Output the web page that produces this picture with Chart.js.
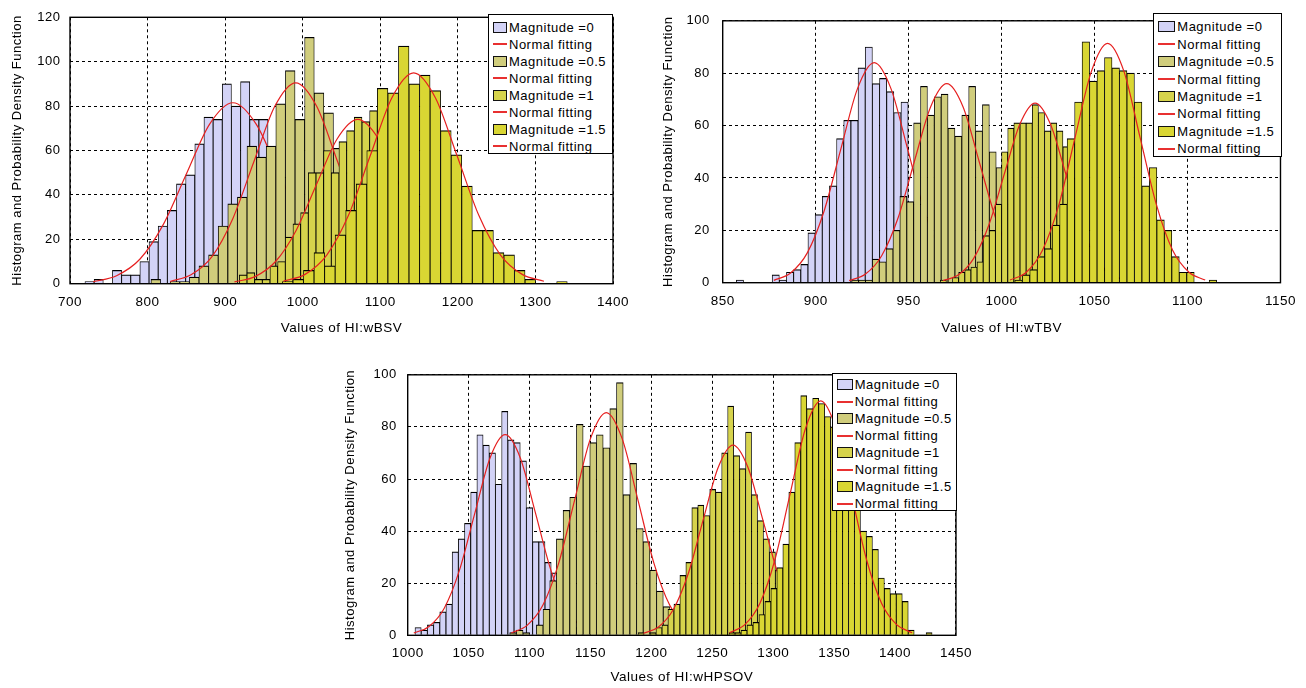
<!DOCTYPE html>
<html>
<head>
<meta charset="utf-8">
<script src="https://cdn.jsdelivr.net/npm/chart.js@4.4.0/dist/chart.umd.min.js"></script>
<style>
  body { margin: 0; background: #fff; width: 1306px; height: 688px; position: relative; overflow: hidden;
         font-family: "Liberation Sans", Arial, sans-serif; }
  canvas { position: absolute; }
  .legend { position: absolute; background: #fff; border: 1px solid #000; box-sizing: border-box; }
  .legend .row { display: flex; align-items: center; font-size: 13px; letter-spacing: 0.5px; color: #000; white-space: nowrap; }
  .legend .sw { display: inline-block; height: 11px; border: 1px solid #111; box-sizing: border-box; margin-left: 4px; margin-right: 2px; }
  .legend .ln { display: inline-block; height: 2px; background: #e83030; margin-left: 4px; margin-right: 2px; }
</style>
</head>
<body>
<canvas id="c1" width="640" height="345" style="left:0px;top:0px"></canvas>
<canvas id="c2" width="656" height="345" style="left:650px;top:0px"></canvas>
<canvas id="c3" width="650" height="332" style="left:332px;top:356px"></canvas>
<script>
const FONT = '"Liberation Sans", Arial, sans-serif';
const magNames = ['Magnitude =0', 'Magnitude =0.5', 'Magnitude =1', 'Magnitude =1.5'];
const fitName = 'Normal fitting';
const yTitle = 'Histogram and Probability Density Function';
const magFills = ['#d3d3f7', '#d0cd7c', '#d6d34c', '#d9d633'];
const fitColor = '#e62020';

// ---- HI:wBSV ----
const bsvXTicks = [700, 800, 900, 1000, 1100, 1200, 1300, 1400];
const bsvYTicks = [0, 20, 40, 60, 80, 100, 120];
// first bin edge, bin width for each magnitude
const bsvBins = [[719.3, 11.8], [804.4, 12.38], [918.3, 9.88], [960.2, 13.6]];
const bsvCount0 = [1, 2, 0, 6, 4, 4, 10, 19, 26, 33, 45, 49, 63, 75, 74, 90, 80, 91, 74, 74, 55, 48, 38, 30, 22, 15, 10, 6, 3, 2, 1];
const bsvCount1 = [2, 0, 1, 1, 3, 8, 13, 26, 36, 39, 62, 57, 62, 81, 96, 74, 111, 86, 77, 61, 50, 42, 30, 20, 14, 9, 5, 3, 1];
const bsvCount2 = [4, 5, 2, 2, 8, 10, 21, 27, 32, 50, 50, 60, 50, 64, 69, 75, 73, 78, 72, 65, 60, 50, 42, 35, 26, 20, 14, 9, 6, 3, 2, 1];
const bsvCount3 = [0, 1, 2, 6, 14, 8, 22, 33, 45, 60, 88, 86, 107, 90, 94, 87, 69, 58, 44, 24, 24, 14, 13, 6, 2, 0, 0, 1];
const bsvFitX0 = [730, 760, 790, 820, 850, 880, 910, 940, 970, 1000, 1030, 1060, 1090];
const bsvFitY0 = [0.9, 3.6, 11.0, 26.5, 49.4, 71.9, 81.5, 71.9, 49.4, 26.5, 11.0, 3.6, 0.9];
const bsvFitX1 = [829, 856, 883, 910, 937, 964, 991, 1018, 1045, 1072, 1099, 1126, 1153];
const bsvFitY1 = [1.0, 4.0, 12.2, 29.4, 54.9, 79.9, 90.5, 79.9, 54.9, 29.4, 12.2, 4.0, 1.0];
const bsvFitX2 = [912, 938.5, 965, 991.5, 1018, 1044.5, 1071, 1097.5, 1124, 1150.5, 1177, 1203.5, 1230];
const bsvFitY2 = [0.8, 3.2, 10.0, 24.0, 44.9, 65.3, 74, 65.3, 44.9, 24.0, 10.0, 3.2, 0.8];
const bsvFitX3 = [975, 1003, 1031, 1059, 1087, 1115, 1143, 1171, 1199, 1227, 1255, 1283, 1311];
const bsvFitY3 = [1.1, 4.2, 12.9, 30.8, 57.6, 83.8, 95, 83.8, 57.6, 30.8, 12.9, 4.2, 1.1];

// ---- HI:wTBV ----
const tbvXTicks = [850, 900, 950, 1000, 1050, 1100, 1150];
const tbvYTicks = [0, 20, 40, 60, 80, 100];
const tbvBins = [[857.35, 3.85], [919.4, 3.7], [967.0, 3.3], [1003.1, 4.02]];
const tbvCount0 = [1, 0, 0, 0, 0, 3, 1, 4, 5, 7, 19, 26, 33, 37, 55, 62, 62, 82, 90, 76, 78, 73, 65, 69, 30, 30, 25, 18, 12, 8, 5, 3, 1];
const tbvCount1 = [1, 1, 1, 9, 8, 13, 20, 33, 31, 61, 75, 64, 71, 72, 59, 56, 64, 75, 58, 68, 50, 44, 30, 18, 10, 5, 2, 1];
const tbvCount2 = [1, 0, 2, 4, 5, 6, 8, 18, 20, 30, 50, 59, 61, 61, 61, 68, 65, 58, 61, 58, 52, 40, 30, 22, 14, 9, 5, 3, 1];
const tbvCount3 = [0, 1, 3, 5, 10, 13, 22, 30, 55, 69, 92, 77, 81, 86, 82, 81, 80, 69, 37, 44, 24, 20, 10, 4, 4, 0, 0, 1];
const tbvFitX0 = [877.5, 886.5, 895.5, 904.5, 913.5, 922.5, 931.5, 940.5, 949.5, 958.5, 967.5, 976.5, 985.5];
const tbvFitY0 = [0.9, 3.7, 11.4, 27.3, 50.9, 74.1, 84, 74.1, 50.9, 27.3, 11.4, 3.7, 0.9];
const tbvFitX1 = [918, 926.8, 935.5, 944.3, 953, 961.8, 970.5, 979.3, 988, 996.8, 1005.5, 1014.3, 1023];
const tbvFitY1 = [0.8, 3.3, 10.3, 24.7, 46.1, 67.1, 76, 67.1, 46.1, 24.7, 10.3, 3.3, 0.8];
const tbvFitX2 = [968.5, 976.8, 985, 993.3, 1001.5, 1009.8, 1018, 1026.3, 1034.5, 1042.8, 1051, 1059.3, 1067.5];
const tbvFitY2 = [0.8, 3.0, 9.3, 22.3, 41.6, 60.5, 68.6, 60.5, 41.6, 22.3, 9.3, 3.0, 0.8];
const tbvFitX3 = [1004.5, 1013.3, 1022, 1030.8, 1039.5, 1048.3, 1057, 1065.8, 1074.5, 1083.3, 1092, 1100.8, 1109.5];
const tbvFitY3 = [1.0, 4.0, 12.4, 29.7, 55.4, 80.7, 91.4, 80.7, 55.4, 29.7, 12.4, 4.0, 1.0];

// ---- HI:wHPSOV ----
const hpsXTicks = [1000, 1050, 1100, 1150, 1200, 1250, 1300, 1350, 1400, 1450];
const hpsYTicks = [0, 20, 40, 60, 80, 100];
const hpsBins = [[1006, 5.08], [1083.7, 5.48], [1189.1, 4.9], [1263.8, 4.9]];
const hpsCount0 = [3, 2, 4, 5, 9, 12, 32, 37, 43, 55, 77, 73, 70, 58, 86, 75, 74, 67, 49, 36, 36, 28, 24, 15, 10, 6, 3, 1];
const hpsCount1 = [1, 2, 1, 0, 4, 10, 21, 37, 48, 53, 81, 65, 74, 77, 72, 87, 97, 54, 66, 41, 36, 25, 17, 11, 6, 3, 1];
const hpsCount2 = [1, 0, 1, 3, 4, 10, 12, 23, 28, 49, 50, 46, 56, 55, 70, 88, 69, 64, 78, 54, 44, 37, 32, 25, 18, 12, 7, 4, 2, 1];
const hpsCount3 = [1, 1, 2, 4, 5, 8, 13, 18, 26, 35, 55, 74, 92, 87, 91, 89, 84, 80, 72, 65, 58, 50, 40, 38, 33, 22, 18, 16, 16, 13, 2, 0, 0, 1];
const hpsFitX0 = [1005, 1017.5, 1030, 1042.5, 1055, 1067.5, 1080, 1092.5, 1105, 1117.5, 1130, 1142.5, 1155];
const hpsFitY0 = [0.9, 3.4, 10.4, 25.0, 46.7, 68.0, 77, 68.0, 46.7, 25.0, 10.4, 3.4, 0.9];
const hpsFitX1 = [1085, 1098, 1111, 1124, 1137, 1150, 1163, 1176, 1189, 1202, 1215, 1228, 1241];
const hpsFitY1 = [0.9, 3.8, 11.6, 27.8, 51.9, 75.5, 85.5, 75.5, 51.9, 27.8, 11.6, 3.8, 0.9];
const hpsFitX2 = [1193.5, 1205.8, 1218, 1230.3, 1242.5, 1254.8, 1267, 1279.3, 1291.5, 1303.8, 1316, 1328.3, 1340.5];
const hpsFitY2 = [0.8, 3.2, 9.9, 23.7, 44.3, 64.4, 73, 64.4, 44.3, 23.7, 9.9, 3.2, 0.8];
const hpsFitX3 = [1264, 1276.5, 1289, 1301.5, 1314, 1326.5, 1339, 1351.5, 1364, 1376.5, 1389, 1401.5, 1414];
const hpsFitY3 = [1.0, 4.0, 12.2, 29.2, 54.6, 79.4, 90, 79.4, 54.6, 29.2, 12.2, 4.0, 1.0];

// box around the axes plus wider glyph spacing like the original figure
const framePlugin = {
  id: 'frame',
  beforeUpdate(chart) { chart.ctx.letterSpacing = '0.5px'; },
  beforeDraw(chart) { chart.ctx.letterSpacing = '0.5px'; },
  afterDatasetsDraw(chart) {
    const a = chart.chartArea, ctx = chart.ctx;
    ctx.save();
    ctx.strokeStyle = '#000';
    ctx.lineWidth = 1.4;
    ctx.strokeRect(a.left, a.top, a.right - a.left, a.bottom - a.top);
    ctx.restore();
  }
};

function buildChart(id, p) {
  const datasets = [];
  for (let m = 0; m < 4; m++) {
    const bin = p.bins[m];
    datasets.push({
      type: 'bar',
      label: magNames[m],
      data: p.counts[m].map((c, i) => ({x: bin[0] + (i + 0.5) * bin[1], y: c})),
      xAxisID: m === 0 ? 'x' : 'x' + m,
      backgroundColor: magFills[m],
      borderColor: '#000',
      borderWidth: {top: 1.2, left: 0.85, right: 0.85, bottom: 0},
      barPercentage: 1,
      categoryPercentage: 1,
      grouped: false,
      order: 8 - 2 * m
    });
    datasets.push({
      type: 'line',
      label: fitName,
      data: p.fitX[m].map((x, i) => ({x: x, y: p.fitY[m][i]})),
      xAxisID: 'x',
      borderColor: fitColor,
      borderWidth: 1.2,
      pointRadius: 0,
      fill: false,
      cubicInterpolationMode: 'monotone',
      order: 7 - 2 * m
    });
  }
  const xt = p.xTicks, yt = p.yTicks;
  const scales = {
    x: {
      type: 'linear', position: 'bottom', min: xt[0], max: xt[xt.length - 1], offset: false,
      afterBuildTicks: s => { s.ticks = xt.map(v => ({value: v})); },
      ticks: {autoSkip: false, maxRotation: 0, padding: 10, color: '#000',
              font: {family: FONT, size: 13.5}, callback: v => String(v)},
      grid: {color: '#000', lineWidth: 1, drawTicks: false, offset: false},
      border: {display: false, dash: [3, 3]},
      title: {display: true, text: p.xTitle, color: '#000', font: {family: FONT, size: 13.5},
              padding: {top: 0, bottom: p.xTitlePad}},
      afterFit: s => { s.height = p.xH; }
    },
    y: {
      type: 'linear', position: 'left', min: yt[0], max: yt[yt.length - 1],
      afterBuildTicks: s => { s.ticks = yt.map(v => ({value: v})); },
      ticks: {padding: p.yTickPad, color: '#000', font: {family: FONT, size: 13}, callback: v => String(v)},
      grid: {color: '#000', lineWidth: 1, drawTicks: false},
      border: {display: false, dash: [3, 3]},
      title: {display: true, text: yTitle, color: '#000', font: {family: FONT, size: 13},
              padding: {top: p.yTitlePad, bottom: 0}},
      afterFit: s => { s.width = p.yW; }
    }
  };
  // each histogram gets its own hidden x axis so bar widths follow its own bin width
  for (let m = 1; m < 4; m++) {
    scales['x' + m] = {type: 'linear', display: false, min: xt[0], max: xt[xt.length - 1], offset: false};
  }
  return new Chart(document.getElementById(id), {
    type: 'bar',
    data: {datasets: datasets},
    options: {
      responsive: false,
      animation: false,
      layout: {padding: p.pad},
      plugins: {legend: {display: false}, tooltip: {enabled: false}},
      scales: scales
    },
    plugins: [framePlugin]
  });
}

function buildLegend(g) {
  const box = document.createElement('div');
  box.className = 'legend';
  box.style.left = g.left + 'px';
  box.style.top = g.top + 'px';
  box.style.width = g.width + 'px';
  box.style.height = g.height + 'px';
  box.style.paddingTop = g.padTop + 'px';
  for (let m = 0; m < 4; m++) {
    const r1 = document.createElement('div');
    r1.className = 'row';
    r1.style.height = g.rowH + 'px';
    const sw = document.createElement('span');
    sw.className = 'sw';
    sw.style.width = g.swW + 'px';
    sw.style.background = magFills[m];
    r1.appendChild(sw);
    r1.appendChild(document.createTextNode(magNames[m]));
    box.appendChild(r1);
    const r2 = document.createElement('div');
    r2.className = 'row';
    r2.style.height = g.rowH + 'px';
    const ln = document.createElement('span');
    ln.className = 'ln';
    ln.style.width = g.swW + 'px';
    r2.appendChild(ln);
    r2.appendChild(document.createTextNode(fitName));
    box.appendChild(r2);
  }
  document.body.appendChild(box);
}

buildChart('c1', {
  xTicks: bsvXTicks, yTicks: bsvYTicks, bins: bsvBins,
  counts: [bsvCount0, bsvCount1, bsvCount2, bsvCount3],
  fitX: [bsvFitX0, bsvFitX1, bsvFitX2, bsvFitX3],
  fitY: [bsvFitY0, bsvFitY1, bsvFitY2, bsvFitY3],
  xTitle: 'Values of HI:wBSV',
  pad: {top: 13.5, right: 27, bottom: 0, left: 0},
  yW: 70, xH: 61.3, yTickPad: 9.5, yTitlePad: 9.5, xTitlePad: 9
});
buildChart('c2', {
  xTicks: tbvXTicks, yTicks: tbvYTicks, bins: tbvBins,
  counts: [tbvCount0, tbvCount1, tbvCount2, tbvCount3],
  fitX: [tbvFitX0, tbvFitX1, tbvFitX2, tbvFitX3],
  fitY: [tbvFitY0, tbvFitY1, tbvFitY2, tbvFitY3],
  xTitle: 'Values of HI:wTBV',
  pad: {top: 13.3, right: 24.3, bottom: 0, left: 0},
  yW: 72.7, xH: 62.3, yTickPad: 13, yTitlePad: 10.5, xTitlePad: 8.5
});
buildChart('c3', {
  xTicks: hpsXTicks, yTicks: hpsYTicks, bins: hpsBins,
  counts: [hpsCount0, hpsCount1, hpsCount2, hpsCount3],
  fitX: [hpsFitX0, hpsFitX1, hpsFitX2, hpsFitX3],
  fitY: [hpsFitY0, hpsFitY1, hpsFitY2, hpsFitY3],
  xTitle: 'Values of HI:wHPSOV',
  pad: {top: 14, right: 25.3, bottom: 0, left: 0},
  yW: 75.7, xH: 52.7, yTickPad: 11, yTitlePad: 10.7, xTitlePad: 2.5
});

buildLegend({left: 487.5, top: 14, width: 125, height: 140, rowH: 17, padTop: 3.5, swW: 14.5});
buildLegend({left: 1153.3, top: 13.3, width: 128.4, height: 143.4, rowH: 17.4, padTop: 4, swW: 17});
buildLegend({left: 831.7, top: 373.3, width: 125, height: 138, rowH: 17, padTop: 2.2, swW: 16});
</script>
</body>
</html>
